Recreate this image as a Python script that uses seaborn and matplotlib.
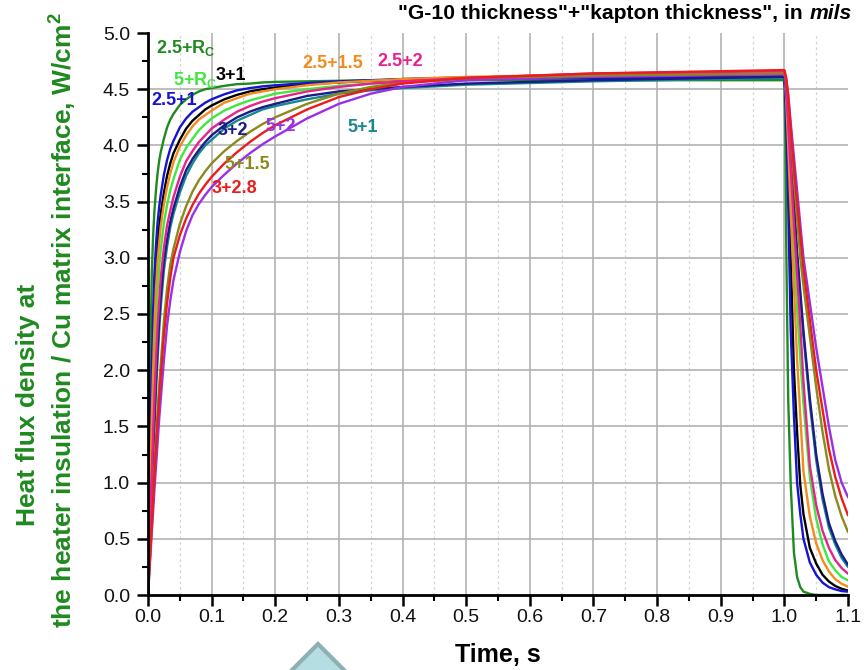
import numpy as np
import pandas as pd
import seaborn as sns
import matplotlib
matplotlib.use("Agg")
import matplotlib.pyplot as plt
from matplotlib.ticker import MultipleLocator
from matplotlib.patches import Polygon

# ---------------- data ----------------
T_RISE = [0, 0.002, 0.004, 0.006, 0.008, 0.01, 0.0125, 0.015, 0.0175, 0.02, 0.025, 0.03,
          0.035, 0.04, 0.05, 0.06, 0.07, 0.08, 0.09, 0.1, 0.12, 0.14, 0.16, 0.18, 0.2,
          0.25, 0.3, 0.35, 0.4, 0.5, 0.7, 0.995]
T_FALL = [1.0, 1.0015, 1.003, 1.006, 1.01, 1.015, 1.02, 1.025, 1.03, 1.04, 1.05, 1.06,
          1.07, 1.08, 1.09, 1.1]

rise_2p5_Rc = [0, 1.24, 2.24, 2.87, 3.19, 3.41, 3.60, 3.75, 3.86, 3.94, 4.06, 4.16, 4.23, 4.28,
               4.36, 4.41, 4.45, 4.48, 4.50, 4.51, 4.53, 4.545, 4.55, 4.56, 4.565, 4.57, 4.575,
               4.58, 4.58, 4.58, 4.58, 4.58]
fall_2p5_Rc = [4.58, 4.10, 3.10, 1.75, 0.98, 0.38, 0.16, 0.07, 0.03, 0.01, 0.0, 0.0, 0.0, 0.0, 0.0, 0.0]

rise_2p5_1 = [0, 0.75, 1.45, 2.04, 2.51, 2.85, 3.11, 3.31, 3.45, 3.56, 3.74, 3.87, 3.97, 4.04,
              4.16, 4.24, 4.30, 4.34, 4.38, 4.41, 4.455, 4.49, 4.51, 4.525, 4.535, 4.555, 4.57,
              4.58, 4.59, 4.595, 4.60, 4.60]
fall_2p5_1 = [4.60, 4.45, 4.20, 3.50, 2.35, 1.60, 1.00, 0.72, 0.50, 0.29, 0.18, 0.11, 0.07, 0.05, 0.035, 0.03]

rise_3_1 = [0, 0.62, 1.21, 1.74, 2.20, 2.56, 2.89, 3.10, 3.27, 3.39, 3.58, 3.73, 3.84, 3.93,
            4.05, 4.15, 4.22, 4.27, 4.32, 4.355, 4.41, 4.45, 4.48, 4.50, 4.515, 4.545, 4.56,
            4.575, 4.59, 4.605, 4.615, 4.62]
fall_3_1 = [4.62, 4.50, 4.30, 3.80, 3.00, 2.00, 1.45, 0.98, 0.72, 0.42, 0.28, 0.18, 0.12, 0.08, 0.055, 0.04]

rise_2p5_1p5 = [0, 0.55, 1.07, 1.58, 1.99, 2.37, 2.72, 2.97, 3.13, 3.28, 3.48, 3.63, 3.75, 3.85,
                3.99, 4.09, 4.17, 4.23, 4.27, 4.31, 4.38, 4.42, 4.46, 4.48, 4.50, 4.535, 4.56,
                4.575, 4.59, 4.61, 4.63, 4.64]
fall_2p5_1p5 = [4.64, 4.55, 4.40, 4.00, 3.40, 2.75, 2.10, 1.60, 1.10, 0.70, 0.46, 0.31, 0.21, 0.14, 0.10, 0.074]

rise_5_Rc = [0, 0.45, 0.91, 1.31, 1.69, 2.03, 2.41, 2.70, 2.91, 3.07, 3.31, 3.47, 3.60, 3.70,
             3.87, 3.98, 4.06, 4.135, 4.19, 4.24, 4.31, 4.36, 4.40, 4.43, 4.46, 4.50, 4.53,
             4.55, 4.565, 4.585, 4.61, 4.62]
fall_5_Rc = [4.62, 4.55, 4.45, 4.10, 3.60, 3.05, 2.55, 2.10, 1.70, 1.05, 0.68, 0.45, 0.30, 0.22, 0.16, 0.13]

rise_2p5_2 = [0, 0.37, 0.74, 1.08, 1.41, 1.73, 2.07, 2.38, 2.61, 2.82, 3.09, 3.29, 3.42, 3.54,
              3.72, 3.86, 3.95, 4.03, 4.09, 4.15, 4.23, 4.30, 4.35, 4.39, 4.42, 4.48, 4.52,
              4.55, 4.57, 4.60, 4.64, 4.66]
fall_2p5_2 = [4.66, 4.60, 4.50, 4.20, 3.80, 3.30, 2.85, 2.40, 1.90, 1.15, 0.80, 0.57, 0.42, 0.31, 0.24, 0.19]

rise_5_1 = [0, 0.31, 0.62, 0.93, 1.21, 1.48, 1.81, 2.09, 2.35, 2.56, 2.89, 3.10, 3.27, 3.39,
            3.58, 3.73, 3.84, 3.93, 4.00, 4.05, 4.15, 4.22, 4.27, 4.32, 4.35, 4.41, 4.46,
            4.49, 4.51, 4.54, 4.57, 4.60]
fall_5_1 = [4.60, 4.56, 4.48, 4.25, 3.90, 3.45, 3.00, 2.65, 2.30, 1.70, 1.20, 0.85, 0.60, 0.45, 0.33, 0.25]

rise_3_2 = [0, 0.33, 0.66, 0.98, 1.27, 1.56, 1.90, 2.18, 2.44, 2.65, 2.97, 3.16, 3.32, 3.44,
            3.63, 3.78, 3.88, 3.96, 4.03, 4.09, 4.18, 4.25, 4.30, 4.34, 4.37, 4.44, 4.48,
            4.50, 4.52, 4.55, 4.58, 4.61]
fall_3_2 = [4.61, 4.57, 4.50, 4.30, 3.95, 3.50, 3.05, 2.70, 2.35, 1.75, 1.25, 0.90, 0.64, 0.48, 0.36, 0.27]

rise_5_1p5 = [0, 0.23, 0.46, 0.69, 0.91, 1.12, 1.38, 1.63, 1.86, 2.05, 2.44, 2.73, 2.94, 3.08,
              3.30, 3.46, 3.59, 3.69, 3.77, 3.84, 3.95, 4.04, 4.12, 4.19, 4.25, 4.37, 4.46,
              4.52, 4.56, 4.60, 4.62, 4.64]
fall_5_1p5 = [4.64, 4.60, 4.55, 4.40, 4.10, 3.70, 3.35, 3.00, 2.75, 2.30, 1.85, 1.45, 1.12, 0.88, 0.70, 0.56]

rise_3_2p8 = [0, 0.21, 0.42, 0.63, 0.85, 1.04, 1.29, 1.53, 1.74, 1.95, 2.31, 2.60, 2.82, 3.00,
              3.20, 3.35, 3.47, 3.57, 3.65, 3.72, 3.84, 3.94, 4.03, 4.11, 4.18, 4.32, 4.43,
              4.50, 4.55, 4.60, 4.64, 4.67]
fall_3_2p8 = [4.67, 4.64, 4.60, 4.45, 4.15, 3.80, 3.50, 3.20, 2.90, 2.45, 2.00, 1.65, 1.30, 1.05, 0.86, 0.71]

rise_5_2 = [0, 0.19, 0.37, 0.56, 0.74, 0.93, 1.14, 1.35, 1.56, 1.74, 2.09, 2.40, 2.62, 2.80,
            3.05, 3.24, 3.38, 3.48, 3.56, 3.63, 3.74, 3.84, 3.93, 4.01, 4.08, 4.24, 4.37,
            4.46, 4.52, 4.58, 4.61, 4.63]
fall_5_2 = [4.63, 4.61, 4.58, 4.45, 4.20, 3.90, 3.60, 3.30, 3.00, 2.60, 2.20, 1.85, 1.50, 1.20, 1.00, 0.87]

SERIES = ["2.5+Rc", "5+Rc", "3+1", "2.5+1", "2.5+1.5", "5+1", "3+2", "5+2", "5+1.5", "2.5+2", "3+2.8"]
RISE = {"2.5+Rc": rise_2p5_Rc, "5+Rc": rise_5_Rc, "3+1": rise_3_1, "2.5+1": rise_2p5_1,
        "2.5+1.5": rise_2p5_1p5, "5+1": rise_5_1, "3+2": rise_3_2, "5+2": rise_5_2,
        "5+1.5": rise_5_1p5, "2.5+2": rise_2p5_2, "3+2.8": rise_3_2p8}
FALL = {"2.5+Rc": fall_2p5_Rc, "5+Rc": fall_5_Rc, "3+1": fall_3_1, "2.5+1": fall_2p5_1,
        "2.5+1.5": fall_2p5_1p5, "5+1": fall_5_1, "3+2": fall_3_2, "5+2": fall_5_2,
        "5+1.5": fall_5_1p5, "2.5+2": fall_2p5_2, "3+2.8": fall_3_2p8}

COLORS = {"2.5+Rc": "#1f8a1f", "5+Rc": "#3fe83f", "3+1": "#000000", "2.5+1": "#1414d2",
          "2.5+1.5": "#f38b1c", "5+1": "#17888f", "3+2": "#1c1c86", "5+2": "#9b2fe6",
          "5+1.5": "#8a8a1c", "2.5+2": "#e8218e", "3+2.8": "#ea1d1d"}

# labels: (text, series, x, y) in data units
LABELS = [
    (r"2.5+R$_{\mathbf{C}}$", "2.5+Rc", 0.012, 4.87),
    (r"5+R$_{\mathbf{C}}$", "5+Rc", 0.040, 4.58),
    ("3+1", "3+1", 0.107, 4.62),
    ("2.5+1", "2.5+1", 0.006, 4.40),
    ("2.5+1.5", "2.5+1.5", 0.242, 4.73),
    ("2.5+2", "2.5+2", 0.360, 4.75),
    ("5+1", "5+1", 0.314, 4.16),
    ("3+2", "3+2", 0.110, 4.13),
    ("5+2", "5+2", 0.185, 4.17),
    ("5+1.5", "5+1.5", 0.120, 3.83),
    ("3+2.8", "3+2.8", 0.100, 3.62),
]

# ---------------- build frame ----------------
rows = []
for name in SERIES:
    for t, v in zip(T_RISE + T_FALL, RISE[name] + FALL[name]):
        rows.append((name, t, v))
df = pd.DataFrame(rows, columns=["series", "t", "v"])

# ---------------- plot ----------------
sns.set_theme(style="white")
plt.rcParams["font.family"] = ["Liberation Sans", "DejaVu Sans"]
plt.rcParams["mathtext.fontset"] = "custom"
plt.rcParams["mathtext.rm"] = "Liberation Sans"
plt.rcParams["mathtext.bf"] = "Liberation Sans:bold"
plt.rcParams["mathtext.it"] = "Liberation Sans:italic"

fig = plt.figure(figsize=(8.64, 6.70), dpi=100)
ax = fig.add_axes([148 / 864, 1 - 595 / 670, 700 / 864, 562 / 670])

ax.set_xlim(0, 1.1)
ax.set_ylim(0, 5.0)
ax.xaxis.set_major_locator(MultipleLocator(0.1))
ax.xaxis.set_minor_locator(MultipleLocator(0.05))
ax.yaxis.set_major_locator(MultipleLocator(0.5))
ax.yaxis.set_minor_locator(MultipleLocator(0.25))

# grid lines (major solid, x-minor dashed)
for xv in np.arange(0.1, 1.05, 0.1):
    ax.axvline(xv, color="#b3b3b3", lw=1.2, zorder=0.5)
for xv in np.arange(0.05, 1.1, 0.1):
    ax.axvline(xv, color="#d2d2d2", lw=0.9, ls=(0, (2, 2.5)), zorder=0.5)
for yv in np.arange(0.5, 4.9, 0.5):
    ax.axhline(yv, color="#b3b3b3", lw=1.2, zorder=0.5)

sns.lineplot(data=df, x="t", y="v", hue="series", hue_order=SERIES, palette=COLORS,
             estimator=None, sort=False, legend=False, lw=1.7, ax=ax, zorder=2)

for txt, key, x, y in LABELS:
    ax.text(x, y, txt, color=COLORS[key], fontsize=13, fontweight="bold",
            ha="left", va="center", zorder=3)

for s in ["top", "right"]:
    ax.spines[s].set_visible(False)
for s in ["left", "bottom"]:
    ax.spines[s].set_color("black")
    ax.spines[s].set_linewidth(2.0)
ax.tick_params(axis="both", which="major", direction="out", length=8, width=1.8,
               labelsize=14, color="black", labelcolor="#111111",
               bottom=True, left=True)
ax.tick_params(axis="x", which="major", pad=2)
ax.tick_params(axis="y", which="major", pad=5)
ax.tick_params(axis="both", which="minor", direction="out", length=4.5, width=1.5,
               color="black", bottom=True, left=True)

ax.set_xlabel("")
ax.set_ylabel("")
fig.text(498 / 864, 1 - 655 / 670, "Time, s", fontsize=18, fontweight="bold",
         ha="center", va="center", color="black")

fig.text(28 / 864, 1 - 405 / 670, "Heat flux density at", rotation=90, color="#1f8a1f",
         fontsize=19, fontweight="bold", ha="center", va="center")
fig.text(63 / 864, 1 - 320 / 670,
         r"the heater insulation / Cu matrix interface, W/cm$^{\mathbf{2}}$",
         rotation=90, color="#1f8a1f", fontsize=19, fontweight="bold",
         ha="center", va="center")

# title at top right: bold part + italic bold "mils"
fig.canvas.draw()
r = fig.canvas.get_renderer()
t_mils = fig.text(852 / 864, 1 - 19 / 670, "mils", fontsize=15.2, fontweight="bold",
                  fontstyle="italic", ha="right", va="baseline", color="black")
bb = t_mils.get_window_extent(renderer=r)
fig.text((bb.x0 - 1) / 864, 1 - 19 / 670, '"G-10 thickness"+"kapton thickness", in ',
         fontsize=15.2, fontweight="bold", ha="right", va="baseline", color="black")

# decorative light-blue arrow head at bottom of the reference
tri = Polygon([(318 / 864, 1 - 644 / 670), (286 / 864, 1 - 676 / 670), (350 / 864, 1 - 676 / 670)],
              closed=True, transform=fig.transFigure, facecolor="#b5dee2",
              edgecolor="#8fb0b3", lw=3, clip_on=False)
fig.add_artist(tri)

fig.savefig("out.png", dpi=100)
